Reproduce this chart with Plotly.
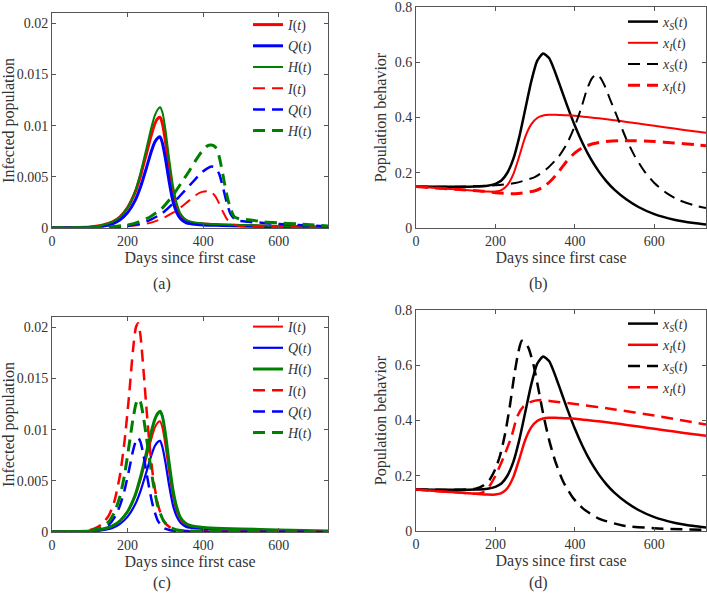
import plotly.graph_objects as go

# ---------------- data ----------------
# Panels (a) and (c): solid curves (same in both panels)
days_solid = [0, 50, 100, 130, 160, 180, 200, 220, 235, 250, 262, 272, 280, 286, 292, 300, 310, 320, 330, 340, 355, 370, 400, 450, 500, 600, 730]
I_solid = [0.00002, 0.00004, 0.0001, 0.00025, 0.0006, 0.0011, 0.0020, 0.0035, 0.0052, 0.0073, 0.0090, 0.0102, 0.0107, 0.0108, 0.0102, 0.0085, 0.0058, 0.0035, 0.0020, 0.0012, 0.0007, 0.0005, 0.0004, 0.0003, 0.00025, 0.00015, 0.00008]
Q_solid = [0.00001, 0.00002, 0.00006, 0.00015, 0.0004, 0.0008, 0.0015, 0.0027, 0.0041, 0.0059, 0.0074, 0.0084, 0.0088, 0.0089, 0.0083, 0.0068, 0.0045, 0.0026, 0.0015, 0.0009, 0.0005, 0.0004, 0.0003, 0.00025, 0.0002, 0.00012, 0.00006]
H_solid = [0.00002, 0.00004, 0.0001, 0.00025, 0.0006, 0.0011, 0.0020, 0.0036, 0.0055, 0.0078, 0.0097, 0.0110, 0.0116, 0.0118, 0.0113, 0.0096, 0.0067, 0.0041, 0.0024, 0.0014, 0.0008, 0.0006, 0.00045, 0.00035, 0.0003, 0.0002, 0.0001]

# Panel (a): dashed curves
days_a_dash = [0, 100, 150, 200, 230, 260, 290, 320, 340, 360, 380, 395, 410, 422, 432, 442, 452, 462, 472, 482, 495, 520, 560, 600, 650, 730]
I_a_dash = [0.00001, 0.00003, 0.0001, 0.0002, 0.0003, 0.0005, 0.0009, 0.0015, 0.0020, 0.0026, 0.0032, 0.0035, 0.0036, 0.0035, 0.0031, 0.0024, 0.0016, 0.0009, 0.0005, 0.0003, 0.0002, 0.00015, 0.0001, 0.0001, 0.00008, 0.00005]
Q_a_dash = [0.00001, 0.00002, 0.00008, 0.0002, 0.0004, 0.0008, 0.0014, 0.0024, 0.0032, 0.0040, 0.0048, 0.0054, 0.0058, 0.0060, 0.0059, 0.0053, 0.0040, 0.0025, 0.0014, 0.0009, 0.0007, 0.0006, 0.0005, 0.0004, 0.0003, 0.00015]
H_a_dash = [0.00001, 0.00003, 0.0001, 0.0003, 0.0006, 0.0011, 0.0019, 0.0032, 0.0043, 0.0054, 0.0066, 0.0074, 0.0080, 0.0081, 0.0079, 0.0070, 0.0052, 0.0033, 0.0019, 0.0011, 0.0009, 0.0008, 0.0006, 0.0005, 0.0004, 0.0002]

# Panel (c): dashed curves
days_c_dash = [0, 60, 90, 110, 130, 150, 165, 180, 192, 204, 214, 222, 228, 234, 242, 250, 258, 268, 280, 295, 310, 330, 360, 450, 600, 730]
I_c_dash = [0.00001, 0.00005, 0.0001, 0.0003, 0.0007, 0.0016, 0.0030, 0.0056, 0.0089, 0.0134, 0.0177, 0.0200, 0.0204, 0.0192, 0.0158, 0.0120, 0.0085, 0.0052, 0.0027, 0.0011, 0.0005, 0.0002, 0.0001, 0.00005, 0.00003, 0.00002]
Q_c_dash = [0.00001, 0.00002, 0.00005, 0.00015, 0.0003, 0.0007, 0.0014, 0.0026, 0.0041, 0.0061, 0.0079, 0.0089, 0.0092, 0.0088, 0.0075, 0.0058, 0.0041, 0.0024, 0.0011, 0.0004, 0.0002, 0.0001, 0.00005, 0.00003, 0.00002, 0.00001]
H_c_dash = [0.00001, 0.00003, 0.00007, 0.0002, 0.0004, 0.0010, 0.0019, 0.0035, 0.0056, 0.0085, 0.0110, 0.0125, 0.0130, 0.0127, 0.0112, 0.0092, 0.0071, 0.0047, 0.0025, 0.0011, 0.0005, 0.0002, 0.0001, 0.00005, 0.00003, 0.00002]

# Panels (b) and (d): solid curves (same in both panels)
days_b = [0, 50, 100, 150, 180, 200, 215, 230, 245, 260, 275, 290, 305, 320, 335, 350, 365, 380, 400, 420, 440, 460, 480, 500, 530, 560, 600, 650, 700, 730]
xS_solid = [0.150, 0.149, 0.149, 0.150, 0.153, 0.160, 0.172, 0.200, 0.250, 0.330, 0.430, 0.530, 0.605, 0.632, 0.615, 0.565, 0.505, 0.445, 0.370, 0.305, 0.250, 0.205, 0.168, 0.138, 0.103, 0.076, 0.050, 0.030, 0.018, 0.013]
xI_solid = [0.150, 0.145, 0.140, 0.135, 0.132, 0.132, 0.137, 0.155, 0.195, 0.260, 0.330, 0.375, 0.398, 0.407, 0.410, 0.410, 0.409, 0.408, 0.406, 0.403, 0.400, 0.397, 0.394, 0.390, 0.384, 0.378, 0.370, 0.360, 0.350, 0.345]

# Panel (b): dashed curves
days_b_xS_dash = [0, 100, 160, 200, 250, 300, 330, 360, 380, 400, 415, 430, 442, 452, 462, 475, 490, 510, 530, 550, 575, 600, 630, 660, 700, 730]
xS_b_dash = [0.150, 0.149, 0.152, 0.155, 0.163, 0.185, 0.215, 0.260, 0.305, 0.370, 0.430, 0.500, 0.540, 0.555, 0.548, 0.515, 0.460, 0.390, 0.320, 0.262, 0.205, 0.163, 0.127, 0.102, 0.082, 0.072]
days_b_xI_dash = [0, 100, 170, 200, 250, 300, 320, 340, 360, 380, 400, 420, 445, 470, 510, 550, 600, 650, 700, 730]
xI_b_dash = [0.150, 0.140, 0.133, 0.128, 0.124, 0.135, 0.148, 0.172, 0.205, 0.243, 0.272, 0.292, 0.305, 0.312, 0.316, 0.316, 0.313, 0.308, 0.302, 0.298]

# Panel (d): dashed curves
days_d_xS_dash = [0, 100, 150, 170, 185, 200, 212, 224, 236, 248, 258, 266, 274, 284, 296, 308, 320, 335, 350, 370, 395, 420, 460, 520, 600, 730]
xS_d_dash = [0.150, 0.149, 0.153, 0.165, 0.185, 0.225, 0.275, 0.350, 0.450, 0.570, 0.650, 0.688, 0.685, 0.660, 0.600, 0.515, 0.425, 0.330, 0.255, 0.180, 0.120, 0.082, 0.045, 0.020, 0.010, 0.004]
days_d_xI_dash = [0, 100, 150, 165, 180, 200, 220, 240, 255, 270, 285, 300, 315, 340, 400, 500, 600, 730]
xI_d_dash = [0.150, 0.140, 0.135, 0.138, 0.152, 0.200, 0.265, 0.340, 0.415, 0.450, 0.465, 0.472, 0.474, 0.470, 0.460, 0.440, 0.418, 0.385]

x_ticks = [0, 200, 400, 600]
y_ticks_inf = [0, 0.005, 0.01, 0.015, 0.02]
y_ticks_beh = [0, 0.2, 0.4, 0.6, 0.8]
panel_labels = ["(a)", "(b)", "(c)", "(d)"]

# ---------------- style ----------------
FONT = "Liberation Serif"
TXT = "#333333"
RED, BLUE, GREEN, BLACK = "#ff0000", "#0000ff", "#008000", "#000000"
DASH = "12px,7px"

lbl_I = "<i>I</i>(<i>t</i>)"
lbl_Q = "<i>Q</i>(<i>t</i>)"
lbl_H = "<i>H</i>(<i>t</i>)"
lbl_xS = "<i>x<sub>S</sub></i>(<i>t</i>)"
lbl_xI = "<i>x<sub>I</sub></i>(<i>t</i>)"

fig = go.Figure()

def add(x, y, name, color, width, dash, xa, ya, leg):
    fig.add_trace(go.Scatter(
        x=x, y=y, name=name, mode="lines", xaxis=xa, yaxis=ya, legend=leg,
        line=dict(color=color, width=width, dash=dash, shape="spline", smoothing=0.6),
        hoverinfo="skip"))

# (a)
add(days_solid, I_solid, lbl_I, RED, 3, "solid", "x", "y", "legend")
add(days_solid, Q_solid, lbl_Q, BLUE, 3, "solid", "x", "y", "legend")
add(days_solid, H_solid, lbl_H, GREEN, 2, "solid", "x", "y", "legend")
add(days_a_dash, I_a_dash, lbl_I, RED, 2, DASH, "x", "y", "legend")
add(days_a_dash, Q_a_dash, lbl_Q, BLUE, 2.5, DASH, "x", "y", "legend")
add(days_a_dash, H_a_dash, lbl_H, GREEN, 3, DASH, "x", "y", "legend")
# (b)
add(days_b, xS_solid, lbl_xS, BLACK, 2.5, "solid", "x2", "y2", "legend2")
add(days_b, xI_solid, lbl_xI, RED, 2, "solid", "x2", "y2", "legend2")
add(days_b_xS_dash, xS_b_dash, lbl_xS, BLACK, 2, DASH, "x2", "y2", "legend2")
add(days_b_xI_dash, xI_b_dash, lbl_xI, RED, 3, DASH, "x2", "y2", "legend2")
# (c)
add(days_solid, I_solid, lbl_I, RED, 2, "solid", "x3", "y3", "legend3")
add(days_solid, Q_solid, lbl_Q, BLUE, 2.2, "solid", "x3", "y3", "legend3")
add(days_solid, H_solid, lbl_H, GREEN, 3, "solid", "x3", "y3", "legend3")
add(days_c_dash, I_c_dash, lbl_I, RED, 2.5, DASH, "x3", "y3", "legend3")
add(days_c_dash, Q_c_dash, lbl_Q, BLUE, 2.5, DASH, "x3", "y3", "legend3")
add(days_c_dash, H_c_dash, lbl_H, GREEN, 3, DASH, "x3", "y3", "legend3")
# (d)
add(days_b, xS_solid, lbl_xS, BLACK, 2.5, "solid", "x4", "y4", "legend4")
add(days_b, xI_solid, lbl_xI, RED, 2.5, "solid", "x4", "y4", "legend4")
add(days_d_xS_dash, xS_d_dash, lbl_xS, BLACK, 2.5, DASH, "x4", "y4", "legend4")
add(days_d_xI_dash, xI_d_dash, lbl_xI, RED, 2.5, DASH, "x4", "y4", "legend4")

W, H = 707, 599
def px_x(p): return p / W
def px_y(p): return 1 - p / H

axis_common = dict(
    showline=True, linecolor="#555555", linewidth=1, mirror="ticks",
    ticks="inside", ticklen=4, tickcolor="#555555", showgrid=False, zeroline=False,
    automargin=False, ticklabeloverflow="allow",
    tickfont=dict(family=FONT, size=14, color=TXT),
    title_font=dict(family=FONT, size=16, color=TXT),
)

def xaxis(dom, anchor):
    return dict(axis_common, domain=dom, anchor=anchor, range=[0, 730],
                tickvals=x_ticks, title=dict(text="Days since first case", standoff=2))

def yaxis(dom, anchor, rng, ticks, title):
    return dict(axis_common, domain=dom, anchor=anchor, range=rng,
                tickvals=ticks, title=dict(text=title, standoff=4))

xl = [px_x(52), px_x(328)]
xr = [px_x(416), px_x(706)]

legend_common = dict(bgcolor="rgba(255,255,255,0)", borderwidth=0,
                     font=dict(family=FONT, size=14, color=TXT),
                     xanchor="left", yanchor="top", tracegroupgap=0)

fig.update_layout(
    width=W, height=H, margin=dict(l=0, r=0, t=0, b=0, autoexpand=False),
    paper_bgcolor="white", plot_bgcolor="white",
    xaxis=xaxis(xl, "y"),
    yaxis=yaxis([px_y(228), px_y(13)], "x", [0, 0.021], y_ticks_inf, "Infected population"),
    xaxis2=xaxis(xr, "y2"),
    yaxis2=yaxis([px_y(228), px_y(7)], "x2", [0, 0.8], y_ticks_beh, "Population behavior"),
    xaxis3=xaxis(xl, "y3"),
    yaxis3=yaxis([px_y(532), px_y(317)], "x3", [0, 0.021], y_ticks_inf, "Infected population"),
    xaxis4=xaxis(xr, "y4"),
    yaxis4=yaxis([px_y(531), px_y(310)], "x4", [0, 0.8], y_ticks_beh, "Population behavior"),
    legend=dict(legend_common, x=px_x(248), y=px_y(9)),
    legend2=dict(legend_common, x=px_x(623), y=px_y(6)),
    legend3=dict(legend_common, x=px_x(248), y=px_y(311)),
    legend4=dict(legend_common, x=px_x(623), y=px_y(308)),
    showlegend=True,
)

label_pos = [(162, 284), (538, 284), (162, 583), (538, 583)]
for txt, (lx, ly) in zip(panel_labels, label_pos):
    fig.add_annotation(text=txt, x=px_x(lx), y=px_y(ly), xref="paper", yref="paper",
                       showarrow=False, xanchor="center", yanchor="middle",
                       font=dict(family=FONT, size=16, color=TXT))

fig.write_html("out.html", config={"displayModeBar": False},
               post_script="document.body.style.margin='0px';")
